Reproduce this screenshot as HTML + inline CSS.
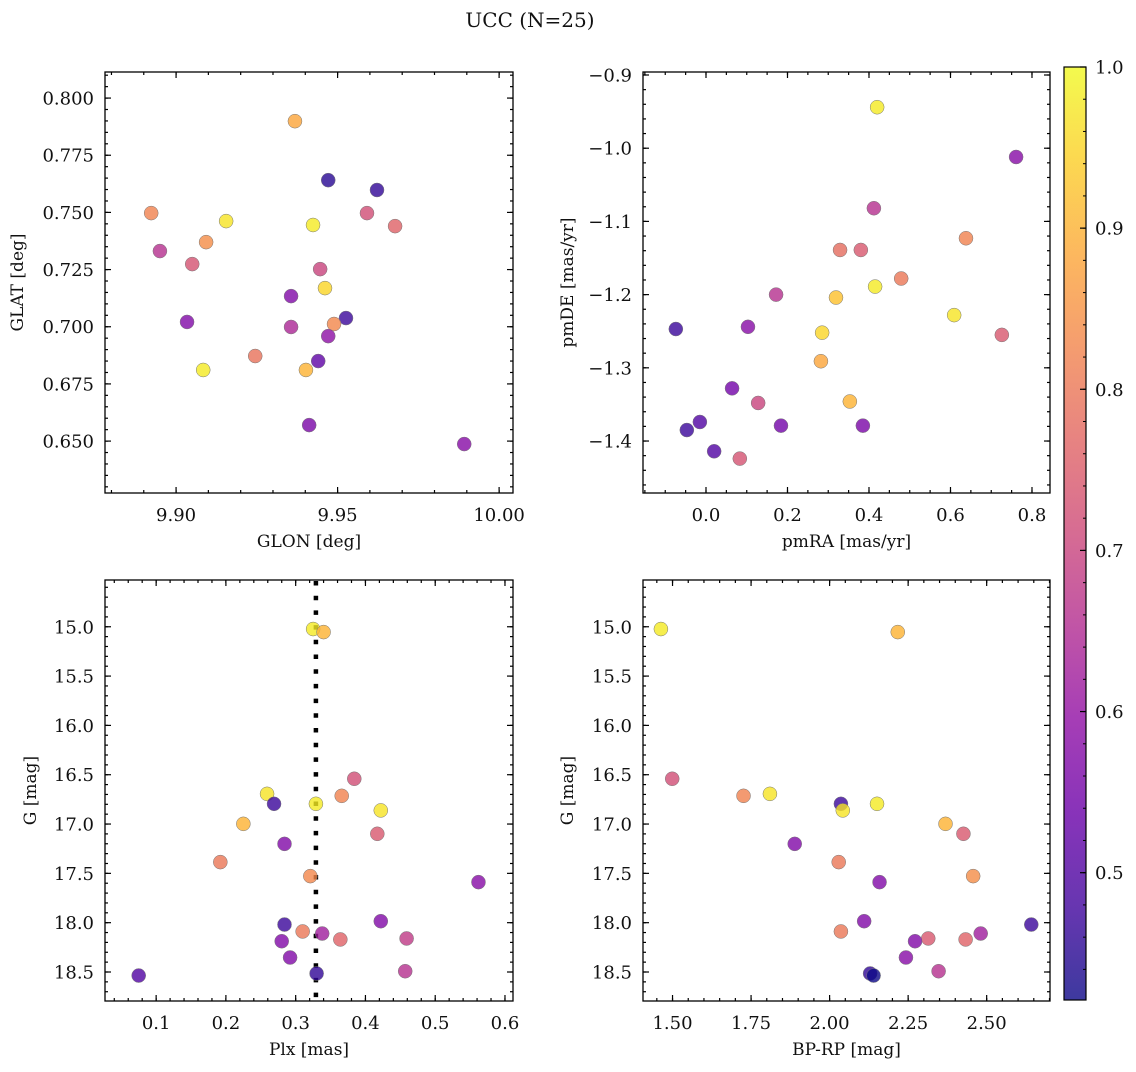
<!DOCTYPE html>
<html><head><meta charset="utf-8"><style>
html,body{margin:0;padding:0;background:#fff;}
svg text{font-family:"DejaVu Serif","Liberation Serif",serif;fill:#111;}
</style></head><body>
<svg id="fig" width="1136" height="1067" viewBox="0 0 1136 1067" xmlns="http://www.w3.org/2000/svg">
<defs><linearGradient id="cbg" x1="0" y1="1" x2="0" y2="0">
<stop offset="0" stop-color="#0d0887"/><stop offset="0.1" stop-color="#41049d"/><stop offset="0.2" stop-color="#6a00a8"/><stop offset="0.3" stop-color="#8f0da4"/><stop offset="0.4" stop-color="#b12a90"/><stop offset="0.5" stop-color="#cc4778"/><stop offset="0.6" stop-color="#e16462"/><stop offset="0.7" stop-color="#f2844b"/><stop offset="0.8" stop-color="#fca636"/><stop offset="0.9" stop-color="#fcce25"/><stop offset="1" stop-color="#f0f921"/>
</linearGradient></defs>
<text x="530" y="27" font-size="20" text-anchor="middle">UCC (N=25)</text>
</svg>
<script>
// Panel 1: GLON vs GLAT
const glonP1 = [9.9368,9.9471,9.9622,9.8923,9.9591,9.9155,9.9424,9.9678,9.9093,9.8950,9.9050,9.9446,9.9461,9.9356,9.9526,9.9034,9.9489,9.9356,9.9471,9.9245,9.9440,9.9402,9.9084,9.9412,9.9892];
const glatP1 = [0.7899,0.7641,0.7598,0.7497,0.7497,0.7462,0.7445,0.7440,0.7370,0.7331,0.7274,0.7252,0.7169,0.7134,0.7038,0.7021,0.7012,0.6999,0.6959,0.6872,0.6850,0.6811,0.6811,0.6570,0.6487];
const colP1 = [0.88,0.45,0.46,0.82,0.72,0.97,0.98,0.76,0.84,0.66,0.73,0.70,0.95,0.57,0.47,0.57,0.83,0.64,0.59,0.79,0.52,0.90,0.98,0.56,0.58];
// Panel 2: pmRA vs pmDE
const pmraP2 = [0.420,0.761,0.412,0.638,0.329,0.380,0.479,0.319,0.415,0.172,0.609,-0.074,0.103,0.285,0.726,0.282,0.064,0.353,0.128,-0.015,0.184,0.385,-0.047,0.020,0.083];
const pmdeP2 = [-0.944,-1.012,-1.082,-1.123,-1.139,-1.139,-1.178,-1.204,-1.189,-1.200,-1.228,-1.247,-1.244,-1.252,-1.255,-1.291,-1.328,-1.346,-1.348,-1.374,-1.379,-1.379,-1.385,-1.414,-1.424];
const colP2 = [0.98,0.58,0.66,0.82,0.78,0.74,0.80,0.92,0.98,0.66,0.97,0.47,0.58,0.95,0.74,0.88,0.55,0.90,0.70,0.50,0.55,0.56,0.47,0.50,0.73];
// Panel 3: Plx vs G
const plxP3 = [0.325,0.340,0.384,0.259,0.269,0.329,0.366,0.422,0.225,0.417,0.284,0.192,0.321,0.562,0.284,0.422,0.310,0.280,0.338,0.364,0.459,0.292,0.330,0.457,0.075];
const gP3 = [15.023,15.054,16.541,16.694,16.795,16.795,16.714,16.862,16.998,17.099,17.201,17.386,17.528,17.589,18.019,17.985,18.089,18.188,18.110,18.170,18.160,18.353,18.515,18.492,18.536];
const colP3 = [0.98,0.90,0.72,0.97,0.47,0.98,0.82,0.97,0.90,0.74,0.57,0.80,0.83,0.58,0.47,0.57,0.80,0.57,0.62,0.76,0.68,0.57,0.46,0.66,0.50];
const plxRef = 0.329;
// Panel 4: BP-RP vs G
const bprpP4 = [1.463,2.217,1.499,1.726,1.810,2.036,2.151,2.042,2.369,2.426,1.889,2.029,2.457,2.159,2.110,2.642,2.036,2.314,2.272,2.433,2.481,2.243,2.347,2.129,2.140];
const gP4 = [15.023,15.054,16.541,16.714,16.694,16.795,16.795,16.862,16.998,17.099,17.201,17.386,17.528,17.589,17.985,18.019,18.089,18.160,18.188,18.170,18.110,18.353,18.492,18.515,18.536];
const colP4 = [0.98,0.90,0.72,0.82,0.97,0.47,0.98,0.97,0.90,0.74,0.57,0.80,0.84,0.57,0.57,0.47,0.80,0.74,0.57,0.76,0.62,0.58,0.66,0.46,0.42];
// Colorbar
const cbMin = 0.421, cbMax = 1.0;
const cbTicks = [0.5,0.6,0.7,0.8,0.9,1.0];

const NS="http://www.w3.org/2000/svg";
const svg=document.getElementById('fig');
function mk(tag,attrs,parent){const e=document.createElementNS(NS,tag);for(const k in attrs)e.setAttribute(k,attrs[k]);(parent||svg).appendChild(e);return e;}
const stops=[[0,[13,8,135]],[0.1,[65,4,157]],[0.2,[106,0,168]],[0.3,[143,13,164]],[0.4,[177,42,144]],[0.5,[204,71,120]],[0.6,[225,100,98]],[0.7,[242,132,75]],[0.8,[252,166,54]],[0.9,[252,206,37]],[1,[240,249,33]]];
function plasma(v){let t=(v-cbMin)/(cbMax-cbMin);t=Math.max(0,Math.min(1,t));for(let i=1;i<stops.length;i++){if(t<=stops[i][0]){const a=stops[i-1],b=stops[i];const f=(t-a[0])/(b[0]-a[0]);const c=a[1].map((x,j)=>Math.round(x+(b[1][j]-x)*f));return `rgb(${c[0]},${c[1]},${c[2]})`;}}return 'rgb(240,249,33)';}
function fmt(v,d){const s=Math.abs(v).toFixed(d);return (v<-1e-9?'\u2212':'')+s;}

function panel(o){
  const g=mk('g',{});
  
  
  const {L,R,T,B}=o;
  const sx=v=>L+(v-o.x0)/(o.x1-o.x0)*(R-L);
  const sy=o.yinv?(v=>T+(v-o.y0)/(o.y1-o.y0)*(B-T)):(v=>B-(v-o.y0)/(o.y1-o.y0)*(B-T));
  const tk=mk('g',{stroke:'#000','stroke-width':1.2},g);
  
  
  const eps=1e-9;
  for(let k=0;;k++){const v=o.xmin0+k*o.xminor;if(v>o.x1+eps)break;if(v<o.x0-eps)continue;const x=sx(v);mk('line',{x1:x,x2:x,y1:B,y2:B-3},tk);mk('line',{x1:x,x2:x,y1:T,y2:T+3},tk);}
  const ylo=Math.min(o.y0,o.y1),yhi=Math.max(o.y0,o.y1);
  for(let k=0;;k++){const v=o.ymin0+k*o.yminor;if(v>yhi+eps)break;if(v<ylo-eps)continue;const y=sy(v);mk('line',{x1:L,x2:L+3,y1:y,y2:y},tk);mk('line',{x1:R,x2:R-3,y1:y,y2:y},tk);}
  o.xt.forEach(v=>{const x=sx(v);mk('line',{x1:x,x2:x,y1:B,y2:B-6},tk);mk('line',{x1:x,x2:x,y1:T,y2:T+6},tk);
    const t=mk('text',{x:x,y:B+28,'font-size':18,'text-anchor':'middle'},g);t.textContent=fmt(v,o.xd);
    
    });
  o.yt.forEach(v=>{const y=sy(v);mk('line',{x1:L,x2:L+6,y1:y,y2:y},tk);mk('line',{x1:R,x2:R-6,y1:y,y2:y},tk);
    const t=mk('text',{x:L-11,y:y+6.5,'font-size':18,'text-anchor':'end'},g);t.textContent=fmt(v,o.yd);
    
    });
  if(o.vline!==undefined){const l=mk('line',{x1:sx(o.vline),x2:sx(o.vline),y1:T+1,y2:B,stroke:'#000','stroke-width':4.5,'stroke-dasharray':'4.5,10.2'},g);
    
    }
  o.xs.forEach((xv,i)=>{const c=mk('circle',{cx:sx(xv),cy:sy(o.ys[i]),r:7,fill:plasma(o.cs[i]),'fill-opacity':0.8,stroke:'#777','stroke-width':0.5},g);
    
    });
  mk('rect',{x:L,y:T,width:R-L,height:B-T,fill:'none',stroke:'#000','stroke-width':1.3},g);
  const xl=mk('text',{x:(L+R)/2,y:B+54,'font-size':17,'text-anchor':'middle'},g);xl.textContent=o.xlab;
  
  
  const yx=o.ylx,yy=(T+B)/2;
  const yl=mk('text',{x:yx,y:yy,'font-size':17,'text-anchor':'middle',transform:`rotate(-90 ${yx} ${yy})`},g);yl.textContent=o.ylab;
  
  
}
panel({name:'glon-glat-panel',L:105,R:513,T:72,B:493,x0:9.878,x1:10.0043,y0:0.6273,y1:0.8114,xt:[9.90,9.95,10.00],xd:2,yt:[0.650,0.675,0.700,0.725,0.750,0.775,0.800],yd:3,xmin0:9.88,xminor:0.01,ymin0:0.630,yminor:0.005,xs:glonP1,ys:glatP1,cs:colP1,xlab:'GLON [deg]',ylab:'GLAT [deg]',ylx:23});
panel({name:'pm-panel',L:643,R:1050,T:72,B:493,x0:-0.1546,x1:0.8442,y0:-1.471,y1:-0.8959,xt:[0,0.2,0.4,0.6,0.8],xd:1,yt:[-1.4,-1.3,-1.2,-1.1,-1.0,-0.9],yd:1,xmin0:-0.15,xminor:0.05,ymin0:-1.46,yminor:0.02,xs:pmraP2,ys:pmdeP2,cs:colP2,xlab:'pmRA [mas/yr]',ylab:'pmDE [mas/yr]',ylx:573});
panel({name:'plx-g-panel',L:105,R:513,T:580,B:1001,x0:0.0267,x1:0.6115,y0:14.526,y1:18.794,yinv:true,xt:[0.1,0.2,0.3,0.4,0.5,0.6],xd:1,yt:[15.0,15.5,16.0,16.5,17.0,17.5,18.0,18.5],yd:1,xmin0:0.04,xminor:0.02,ymin0:14.6,yminor:0.1,xs:plxP3,ys:gP3,cs:colP3,xlab:'Plx [mas]',ylab:'G [mag]',ylx:36,vline:plxRef});
panel({name:'color-mag-panel',L:643,R:1050,T:580,B:1001,x0:1.406,x1:2.7016,y0:14.526,y1:18.794,yinv:true,xt:[1.5,1.75,2.0,2.25,2.5],xd:2,yt:[15.0,15.5,16.0,16.5,17.0,17.5,18.0,18.5],yd:1,xmin0:1.45,xminor:0.05,ymin0:14.6,yminor:0.1,xs:bprpP4,ys:gP4,cs:colP4,xlab:'BP-RP [mag]',ylab:'G [mag]',ylx:573});

const cb=mk('g',{});


const cL=1064,cR=1086,cT=67,cB=1000;
mk('rect',{x:cL,y:cT,width:cR-cL,height:cB-cT,fill:'url(#cbg)','fill-opacity':0.8},cb);
mk('rect',{x:cL,y:cT,width:cR-cL,height:cB-cT,fill:'none',stroke:'#000','stroke-width':1.2},cb);
const cy=v=>cB-(v-cbMin)/(cbMax-cbMin)*(cB-cT);
for(let k=0;k<=28;k++){const v=0.44+k*0.02;if(v>1.0001)break;mk('line',{x1:cR,x2:cR-3,y1:cy(v),y2:cy(v),stroke:'#000','stroke-width':1},cb);}
cbTicks.forEach(v=>{const y=cy(v);mk('line',{x1:cR,x2:cR-6,y1:y,y2:y,stroke:'#000','stroke-width':1.2},cb);
  const t=mk('text',{x:cR+9,y:y+6.5,'font-size':18},cb);t.textContent=v.toFixed(1);
  
  });
</script>
</body></html>
